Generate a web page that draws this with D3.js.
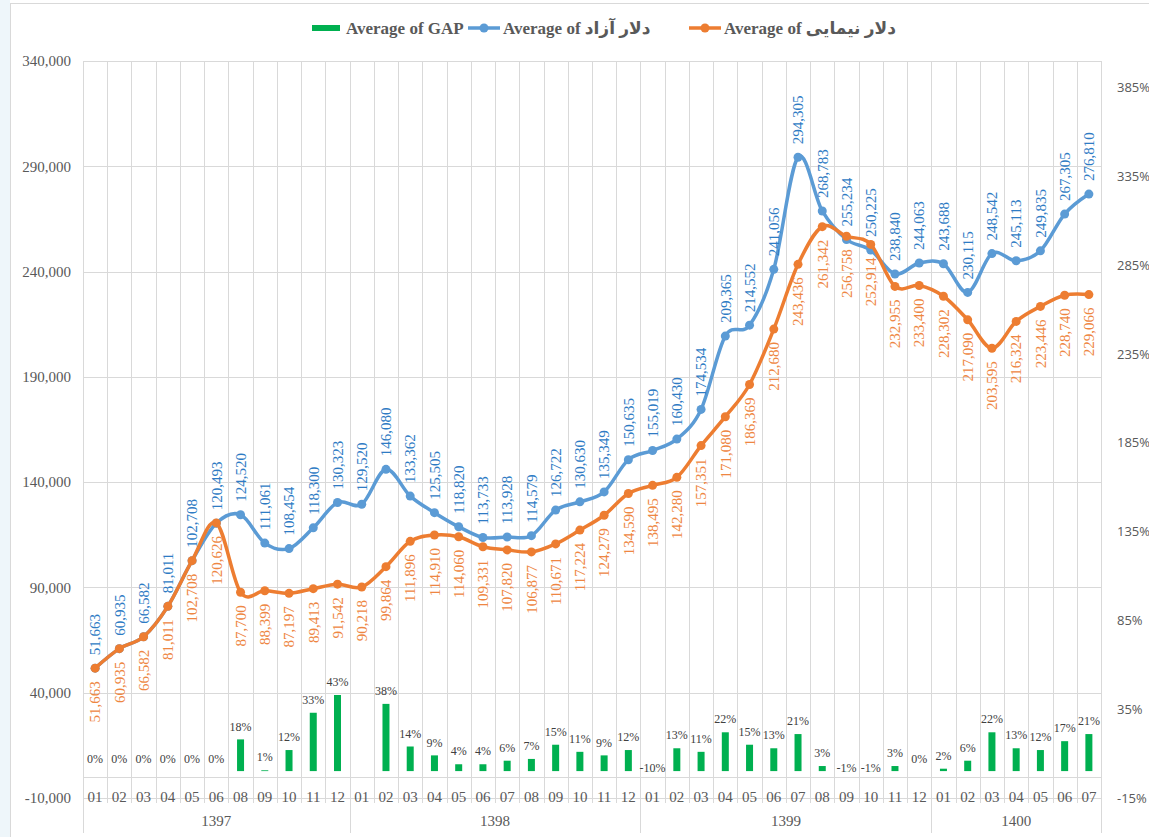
<!DOCTYPE html>
<html>
<head>
<meta charset="utf-8">
<script src="https://cdn.jsdelivr.net/npm/d3@7"></script>
<style>
  body { margin: 0; background: #fff; }
  text { font-family: "Liberation Serif", "DejaVu Sans", serif; }
</style>
</head>
<body>
<script>
var width = 1149;
var height = 837;

// categories (month of each solar year)
var months = ["01","02","03","04","05","06","08","09","10","11","12",
              "01","02","03","04","05","06","07","08","09","10","11","12",
              "01","02","03","04","05","06","07","08","09","10","11","12",
              "01","02","03","04","05","06","07"];
var yearNames = ["1397", "1398", "1399", "1400"];
var yearSpans = [11, 12, 12, 7];

// Average of دلار آزاد
var azad = [51663, 60935, 66582, 81011, 102708, 120493, 124520, 111061, 108454, 118300, 130323,
            129520, 146080, 133362, 125505, 118820, 113733, 113928, 114579, 126722, 130630, 135349, 150635,
            155019, 160430, 174534, 209365, 214552, 241056, 294305, 268783, 255234, 250225, 238840, 244063,
            243688, 230115, 248542, 245113, 249835, 267305, 276810];
// Average of دلار نیمایی
var nimaei = [51663, 60935, 66582, 81011, 102708, 120626, 87700, 88399, 87197, 89413, 91542,
              90218, 99864, 111896, 114910, 114060, 109331, 107820, 106877, 110671, 117224, 124279, 134590,
              138495, 142280, 157351, 171080, 186369, 212680, 243436, 261342, 256758, 252914, 232955, 233400,
              228302, 217090, 203595, 216324, 223446, 228740, 229066];
// Average of GAP
var gap = [0, 0, 0, 0, 0, 0, 0.18, 0.006, 0.12, 0.33, 0.43,
           null, 0.38, 0.14, 0.09, 0.04, 0.04, 0.06, 0.07, 0.15, 0.11, 0.09, 0.12,
           -0.10, 0.13, 0.11, 0.22, 0.15, 0.13, 0.21, 0.03, -0.01, -0.01, 0.03, 0.00,
           0.015, 0.06, 0.22, 0.13, 0.12, 0.17, 0.21];

var leftTicks = d3.range(-10000, 340001, 50000);
var rightTicks = d3.range(0, 9).map(function(k) { return -0.15 + 0.5 * k; });

var loc = d3.formatLocale({decimal: ".", thousands: ",", grouping: [3], currency: ["", ""], minus: "-"});
var fNum = loc.format(",");
var fPct = loc.format(".0%");

var blue = "#5B9BD5", blueText = "#2E7BC4";
var orange = "#ED7D31", orangeText = "#EE8642";
var grid = "#d9d9d9";

var x = d3.scaleBand().domain(d3.range(months.length)).range([83, 1101]);
var yL = d3.scaleLinear().domain([-10000, 340000]).range([798, 61]);
var yR = d3.scaleLinear().domain([-0.15, 4.0]).range([798, 61]);
var cx = function(i) { return x(i) + x.bandwidth() / 2; };

var svg = d3.select("body").append("svg")
    .attr("width", width)
    .attr("height", height);

// page edge + chart border
svg.append("rect").attr("x", 0).attr("y", 0).attr("width", 10).attr("height", height).attr("fill", "#eef6fa");
svg.append("rect").attr("x", 10.5).attr("y", 3.5).attr("width", width + 10).attr("height", height + 10)
    .attr("fill", "#fff").attr("stroke", grid);

// horizontal gridlines
svg.append("g").selectAll("line")
  .data(leftTicks)
  .enter().append("line")
    .attr("x1", 83).attr("x2", 1101)
    .attr("y1", function(d) { return Math.round(yL(d)) + 0.5; })
    .attr("y2", function(d) { return Math.round(yL(d)) + 0.5; })
    .attr("stroke", grid);

// vertical gridlines / category separators
var yearStarts = [0];
yearSpans.forEach(function(n, i) { yearStarts.push(yearStarts[i] + n); });
svg.append("g").selectAll("line")
  .data(d3.range(months.length + 1))
  .enter().append("line")
    .attr("x1", function(i) { return Math.round(83 + i * x.bandwidth()) + 0.5; })
    .attr("x2", function(i) { return Math.round(83 + i * x.bandwidth()) + 0.5; })
    .attr("y1", 61)
    .attr("y2", function(i) { return yearStarts.indexOf(i) >= 0 ? 833 : 803; })
    .attr("stroke", grid);

// category axis line (crosses at 0)
svg.append("line")
    .attr("x1", 83).attr("x2", 1101)
    .attr("y1", Math.round(yL(0)) + 0.5).attr("y2", Math.round(yL(0)) + 0.5)
    .attr("stroke", grid);

// left axis
var gl = svg.append("g")
    .attr("transform", "translate(83,0)")
    .call(d3.axisLeft(yL).tickValues(leftTicks).tickFormat(fNum).tickSize(0).tickPadding(12));
gl.select(".domain").remove();
gl.selectAll("text").style("font-family", "Liberation Serif").style("font-size", "15px").attr("fill", "#595959");

// right axis
var gr = svg.append("g")
    .attr("transform", "translate(1101,0)")
    .call(d3.axisRight(yR).tickValues(rightTicks).tickFormat(fPct).tickSize(0).tickPadding(16));
gr.select(".domain").remove();
gr.selectAll("text").style("font-family", "Open Sans").style("font-size", "13px").attr("fill", "#595959");

// month labels
svg.append("g").selectAll("text")
  .data(months)
  .enter().append("text")
    .attr("x", function(d, i) { return cx(i); })
    .attr("y", 797)
    .attr("dy", "0.35em")
    .attr("text-anchor", "middle")
    .style("font-size", "15px")
    .attr("fill", "#595959")
    .text(function(d) { return d; });

// year labels
svg.append("g").selectAll("text")
  .data(yearNames)
  .enter().append("text")
    .attr("x", function(d, i) { return 83 + (yearStarts[i] + yearSpans[i] / 2) * x.bandwidth(); })
    .attr("y", 821)
    .attr("dy", "0.35em")
    .attr("text-anchor", "middle")
    .style("font-size", "15px")
    .attr("fill", "#595959")
    .text(function(d) { return d; });

// GAP bars (negative ones are hidden in the original)
svg.append("clipPath").attr("id", "barclip")
  .append("rect").attr("x", 0).attr("y", 0).attr("width", width).attr("height", yR(0));

var gapData = gap.map(function(v, i) { return {i: i, v: v}; })
    .filter(function(d) { return d.v !== null; });

svg.append("g").attr("clip-path", "url(#barclip)").selectAll("rect")
  .data(gapData)
  .enter().append("rect")
    .attr("x", function(d) { return cx(d.i) - 3.5; })
    .attr("width", 7)
    .attr("y", function(d) { return Math.min(yR(d.v), yR(0)); })
    .attr("height", function(d) { return Math.abs(yR(d.v) - yR(0)); })
    .attr("fill", "#00B050");

svg.append("g").selectAll("text")
  .data(gapData)
  .enter().append("text")
    .attr("x", function(d) { return cx(d.i); })
    .attr("y", function(d) { return d.v < 0 ? yR(0) - 4 : yR(d.v) - 13; })
    .attr("dy", "0.35em")
    .attr("text-anchor", "middle")
    .style("font-size", "12px")
    .attr("fill", "#404040")
    .text(function(d) { return fPct(d.v); });

// lines
var drawSeries = function(values, color) {
  var line = d3.line()
      .x(function(d, i) { return cx(i); })
      .y(function(d) { return yL(d); })
      .curve(d3.curveCatmullRom.alpha(0));
  var g = svg.append("g");
  g.append("path")
    .datum(values)
    .attr("d", line)
    .attr("fill", "none")
    .attr("stroke", color)
    .attr("stroke-width", 3.5)
    .attr("stroke-linejoin", "round");
  g.selectAll("circle")
    .data(values)
    .enter().append("circle")
      .attr("cx", function(d, i) { return cx(i); })
      .attr("cy", function(d) { return yL(d); })
      .attr("r", 4.5)
      .attr("fill", color);
  return g;
};

var labelSeries = function(values, textColor, above) {
  svg.append("g").selectAll("text")
    .data(values)
    .enter().append("text")
      .attr("transform", function(d, i) {
        var yy = above ? yL(d) - 13 : yL(d) + 13;
        return "translate(" + cx(i) + "," + yy + ") rotate(-90)";
      })
      .attr("dy", "0.35em")
      .attr("text-anchor", above ? "start" : "end")
      .style("font-size", "15px")
      .attr("fill", textColor)
      .text(function(d) { return fNum(d); });
};

drawSeries(azad, blue);
drawSeries(nimaei, orange);
labelSeries(azad, blueText, true);
labelSeries(nimaei, orangeText, false);

// legend
var legend = svg.append("g").attr("transform", "translate(0,28)");
legend.append("rect").attr("x", 312).attr("y", -3).attr("width", 28).attr("height", 6).attr("fill", "#00B050");
legend.append("text").attr("x", 346).attr("dy", "0.35em")
    .style("font-size", "17px").style("font-weight", "bold").attr("fill", "#595959")
    .text("Average of GAP");

var legItems = [
  {x: 468, color: blue, label: "Average of دلار آزاد"},
  {x: 689, color: orange, label: "Average of دلار نیمایی"}
];
legItems.forEach(function(d) {
  legend.append("line").attr("x1", d.x).attr("x2", d.x + 32)
      .attr("stroke", d.color).attr("stroke-width", 3.5);
  legend.append("circle").attr("cx", d.x + 16).attr("r", 4.5).attr("fill", d.color);
  legend.append("text").attr("x", d.x + 35).attr("dy", "0.35em")
      .style("font-size", "17px").style("font-weight", "bold").attr("fill", "#595959")
      .text(d.label);
});
</script>
</body>
</html>
